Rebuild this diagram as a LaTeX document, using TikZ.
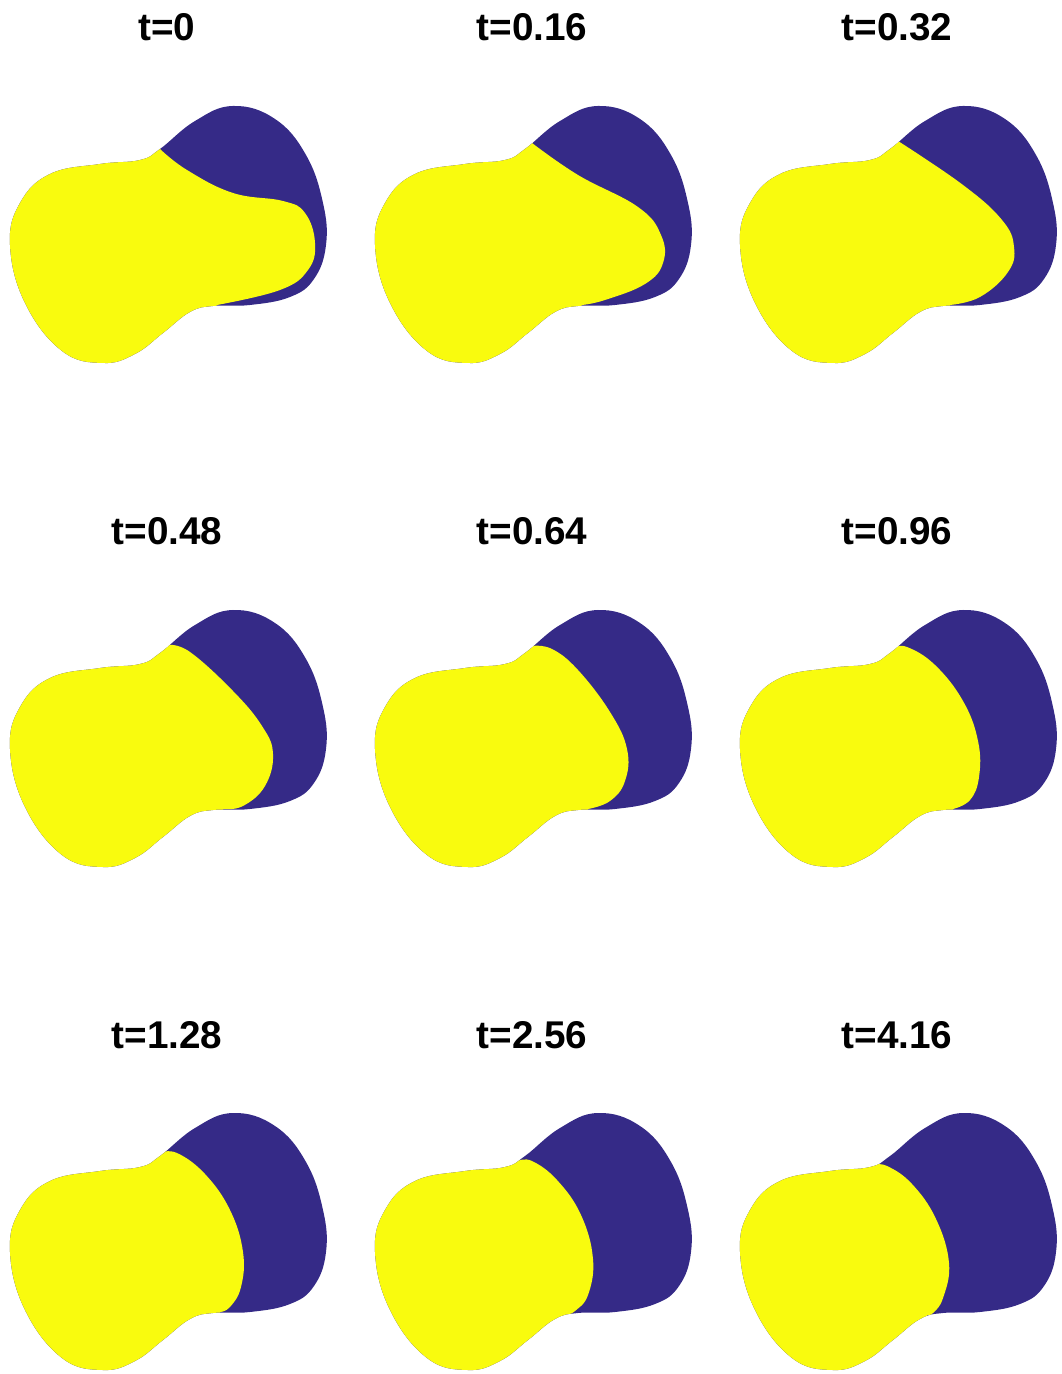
\documentclass[tikz,border=0pt]{standalone}
\usepackage{fontspec}
\setmainfont{Liberation Sans}
\usetikzlibrary{positioning}
\definecolor{phaseA}{RGB}{249,251,14}
\definecolor{phaseB}{RGB}{53,42,135}

% outline of the domain (same in every panel)
\newcommand{\blobpath}{plot[smooth cycle, tension=0.7] coordinates {(160,149) (195,121) (233,106) (275,119) (306,155) (323,203) (326,245) (314,279) (290,297) (250,305) (213,306) (190,312) (163,333) (135,354) (103,363) (62,351) (25,303) (10,245) (20,203) (50,174) (100,164) (140,160)}}

% one snapshot: name, x shift, y shift, label, interface points
\newcommand{\snapshot}[5]{%
  \begin{scope}[shift={(#2,#3)}]
    \node[ttl] (#1) at (167,41) {#4};
    \begin{scope}
      \clip \blobpath;
      \fill[phaseB] (-20,-20) rectangle (360,420);
      \fill[phaseA] plot[smooth, tension=0.7] coordinates {#5} -- ++(0,120) -| (-20,-20) -- cycle;
    \end{scope}
  \end{scope}}

\begin{document}
\begin{tikzpicture}[
                    x=0.01cm, y=-0.01cm,
                    ttl/.style={font=\fontsize{11}{13}\selectfont\bfseries, anchor=base, inner sep=0pt}
                ]
                    \useasboundingbox (0,0) rectangle (1061,1374);

                    % Row 1
                    \snapshot{t000}{0}{0}{t=0}{(160,149) (187,170) (233,193) (283,201) (305,213) (315,243) (308,270) (280,290) (217,305)}
                    \snapshot{t016}{365}{0}{t=0.16}{(167,143) (213,175) (273,207) (296,235) (298,263) (280,284) (240,300) (217,305)}
                    \snapshot{t032}{730}{0}{t=0.32}{(168,141) (233,185) (272,220) (284,247) (278,272) (250,297) (220,305)}

                    % Row 2
                    \snapshot{t048}{0}{504}{t=0.48}{(168,141) (190,148) (233,187) (262,222) (273,250) (265,282) (243,302) (223,305)}
                    \snapshot{t064}{365}{504}{t=0.64}{(167,142) (187,145) (213,166) (245,208) (262,245) (260,277) (245,297) (223,305)}
                    \snapshot{t096}{730}{504}{t=0.96}{(163,144) (177,143) (205,161) (233,197) (248,237) (249,273) (240,296) (223,305)}

                    % Row 3
                    \snapshot{t128}{0}{1007}{t=1.28}{(160,146) (177,146) (205,167) (230,203) (243,245) (241,280) (230,300) (220,305)}
                    \snapshot{t256}{365}{1007}{t=2.56}{(153,154) (167,154) (192,173) (216,208) (228,252) (223,288) (210,304) (203,307)}
                    \snapshot{t416}{730}{1007}{t=4.16}{(143,158) (157,159) (182,177) (206,212) (219,256) (213,291) (203,306) (197,308)}
                \end{tikzpicture}
\end{document}
